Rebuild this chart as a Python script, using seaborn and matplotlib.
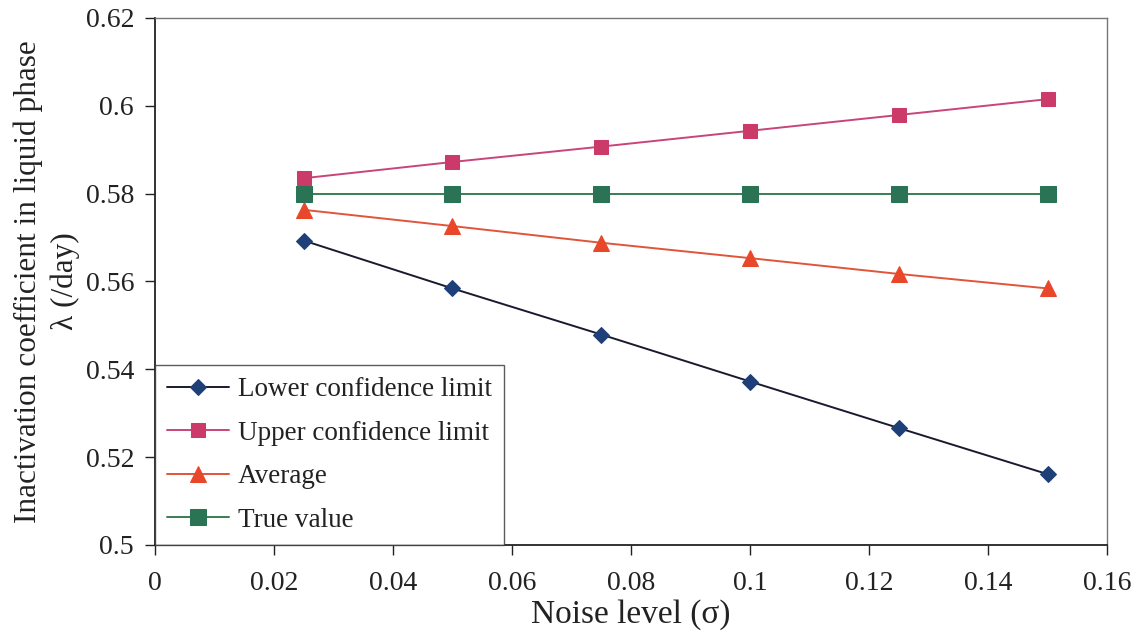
import matplotlib
matplotlib.use("Agg")
import matplotlib.pyplot as plt
import seaborn as sns
import pandas as pd

noise = [0.025, 0.05, 0.075, 0.1, 0.125, 0.15]
lower = [0.5693, 0.5584, 0.5479, 0.5372, 0.5266, 0.5161]
upper = [0.5835, 0.5872, 0.5907, 0.5943, 0.5979, 0.6015]
average = [0.5763, 0.5726, 0.5688, 0.5653, 0.5617, 0.5584]
true_value = [0.5798, 0.5798, 0.5798, 0.5798, 0.5798, 0.5798]

series_names = ["Lower confidence limit", "Upper confidence limit", "Average", "True value"]
series_vals = [lower, upper, average, true_value]

sns.set_style("white")
plt.rcParams['font.family'] = ['Liberation Serif', 'DejaVu Serif']

rows = []
for name, vals in zip(series_names, series_vals):
    for x, y in zip(noise, vals):
        rows.append({"noise": x, "value": y, "series": name})
df = pd.DataFrame(rows)

line_colors = ["#1a1a2e", "#c8457a", "#e0553a", "#3a7d55"]
marker_colors = ["#1f3f78", "#cc3a6a", "#e8472a", "#2a7355"]
markers = ["D", "s", "^", "s"]
msizes = [8.5, 10, 11, 11]

fig = plt.figure(figsize=(11.39, 6.41), dpi=100)
ax = fig.add_axes([0.136, 0.150, 0.836, 0.822])

for name, lc, mc, mk, ms in zip(series_names, line_colors, marker_colors, markers, msizes):
    sub = df[df["series"] == name]
    sns.lineplot(data=sub, x="noise", y="value", ax=ax, color=lc, linewidth=1.4,
                 marker=mk, markersize=ms, markerfacecolor=mc, markeredgecolor=mc,
                 label=name)

ax.set_xlim(0, 0.16)
ax.set_ylim(0.5, 0.62)
ax.set_xticks([0, 0.02, 0.04, 0.06, 0.08, 0.1, 0.12, 0.14, 0.16])
ax.set_xticklabels(["0", "0.02", "0.04", "0.06", "0.08", "0.1", "0.12", "0.14", "0.16"])
ax.set_yticks([0.5, 0.52, 0.54, 0.56, 0.58, 0.6, 0.62])
ax.set_yticklabels(["0.5", "0.52", "0.54", "0.56", "0.58", "0.6", "0.62"])
ax.tick_params(axis='y', labelsize=20, direction='out', length=7, width=1,
               left=True, colors='#222222', labelcolor='#222222', pad=8)
ax.tick_params(axis='x', labelsize=20, direction='out', length=7, width=1,
               bottom=True, colors='#222222', labelcolor='#222222', pad=12)
ax.set_xlabel("Noise level (σ)", fontsize=24, color='#222222', labelpad=2)
ax.set_ylabel("Inactivation coefficient in liquid phase\nλ (/day)", fontsize=22.5,
              color='#222222', labelpad=4, linespacing=1.35)

for side in ["left", "bottom"]:
    ax.spines[side].set_color('#222222')
    ax.spines[side].set_linewidth(1.3)
for side in ["top", "right"]:
    ax.spines[side].set_color('#777777')
    ax.spines[side].set_linewidth(1.0)
ax.grid(False)

leg = ax.legend(loc='lower left', fontsize=19.5, frameon=True, fancybox=False,
                edgecolor='#333333', borderaxespad=0.0, handlelength=2.3,
                handletextpad=0.3, labelspacing=0.68, borderpad=0.45)
leg.get_frame().set_linewidth(1.0)
for t in leg.get_texts():
    t.set_color('#222222')

fig.savefig("out.png", dpi=100, facecolor='white')
